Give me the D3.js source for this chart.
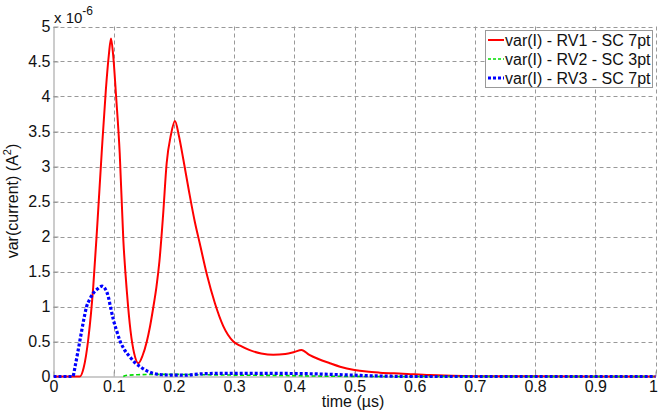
<!DOCTYPE html>
<html>
<head>
<meta charset="utf-8">
<script src="https://cdn.jsdelivr.net/npm/d3@7"></script>
<style>
  body { margin: 0; background: #fff; }
  svg { display: block; font-family: "Liberation Sans", Arial, sans-serif; }
</style>
</head>
<body>
<svg id="chart" width="658" height="413"></svg>
<script>
// ---- data (values in units of 1e-6 A^2, time in µs) ----
const seriesNames = ["var(I) - RV1 - SC 7pt", "var(I) - RV2 - SC 3pt", "var(I) - RV3 - SC 7pt"];

const rv1T = [0, 0.044, 0.05, 0.058, 0.066, 0.073, 0.080, 0.087, 0.092, 0.0955, 0.099, 0.104, 0.110, 0.116, 0.122, 0.128, 0.134, 0.141, 0.148, 0.155, 0.160, 0.166, 0.171, 0.176, 0.182, 0.188, 0.195, 0.2018, 0.208, 0.2157, 0.225, 0.235, 0.243, 0.255, 0.268, 0.282, 0.2987, 0.31, 0.325, 0.345, 0.365, 0.385, 0.40, 0.412, 0.425, 0.44, 0.459, 0.476, 0.50, 0.52, 0.542, 0.58, 0.625, 0.70, 0.80, 1.0];
const rv1V = [0, 0, 0.12, 0.55, 1.28, 2.2, 3.19, 4.1, 4.6, 4.83, 4.6, 4.0, 3.19, 1.95, 1.2, 0.65, 0.33, 0.19, 0.3, 0.5, 0.7, 1.0, 1.28, 1.65, 2.3, 3.05, 3.45, 3.65, 3.45, 3.1, 2.65, 2.2, 1.9, 1.45, 1.05, 0.72, 0.5, 0.44, 0.38, 0.33, 0.31, 0.32, 0.35, 0.38, 0.31, 0.25, 0.19, 0.14, 0.093, 0.07, 0.055, 0.04, 0.02, 0.005, 0.002, 0];

const rv2T = [0.116, 0.12, 0.14, 0.17, 0.20, 0.25, 0.30, 0.37, 0.45, 0.55, 0.70, 1.0];
const rv2V = [0.0, 0.015, 0.025, 0.03, 0.03, 0.025, 0.02, 0.015, 0.005, 0, 0, 0];

const rv3T = [0, 0.032, 0.036, 0.040, 0.044, 0.050, 0.055, 0.060, 0.066, 0.073, 0.081, 0.086, 0.091, 0.095, 0.0995, 0.105, 0.110, 0.118, 0.127, 0.135, 0.144, 0.155, 0.166, 0.18, 0.20, 0.22, 0.24, 0.28, 0.35, 0.42, 0.48, 0.52, 0.56, 0.60, 1.0];
const rv3V = [0, 0, 0.15, 0.33, 0.52, 0.8, 1.0, 1.1, 1.19, 1.25, 1.29, 1.25, 1.14, 0.98, 0.81, 0.65, 0.52, 0.38, 0.28, 0.2, 0.14, 0.08, 0.045, 0.025, 0.02, 0.02, 0.035, 0.045, 0.045, 0.04, 0.025, 0.012, 0.004, 0, 0];

const xTicks = [0, 0.1, 0.2, 0.3, 0.4, 0.5, 0.6, 0.7, 0.8, 0.9, 1];
const yTicks = [0, 0.5, 1, 1.5, 2, 2.5, 3, 3.5, 4, 4.5, 5];

// ---- layout ----
const svg = d3.select("#chart");
const L = 53.5, R = 655.5, T = 26.5, B = 376.5;
const FONT = "16px";
const x = d3.scaleLinear().domain([0, 1]).range([L, R]);
const y = d3.scaleLinear().domain([0, 5]).range([B, T]);

// grid
const grid = svg.append("g").attr("stroke", "#999").attr("stroke-width", 1).attr("stroke-dasharray", "4,3");
grid.selectAll(".gx").data(xTicks.slice(1)).join("line")
  .attr("x1", d => Math.round(x(d)) + 0.5).attr("x2", d => Math.round(x(d)) + 0.5)
  .attr("y1", T).attr("y2", B);
grid.selectAll(".gy").data(yTicks.slice(1)).join("line")
  .attr("y1", d => Math.round(y(d)) + 0.5).attr("y2", d => Math.round(y(d)) + 0.5)
  .attr("x1", L).attr("x2", R);

// axes
const xAxis = d3.axisBottom(x).tickValues(xTicks).tickFormat(d3.format("~g")).tickSizeInner(-5).tickSizeOuter(0);
const yAxis = d3.axisLeft(y).tickValues(yTicks).tickFormat(d3.format("~g")).tickSizeInner(-5).tickSizeOuter(0).tickPadding(3);
const gx = svg.append("g").attr("transform", `translate(0,${B})`).call(xAxis);
const gy = svg.append("g").attr("transform", `translate(${L},0)`).call(yAxis);
[gx, gy].forEach(g => {
  g.select(".domain").attr("stroke", "#999");
  g.selectAll(".tick line").attr("stroke", "#999");
  g.selectAll(".tick text").attr("fill", "#111").style("font-size", FONT).style("font-family", "'Liberation Sans', Arial, sans-serif");
});
gx.selectAll(".tick text").attr("y", 15).attr("dy", 0);
// keep the last label inside the frame
gx.selectAll(".tick text").filter(d => d === 1).attr("text-anchor", "end").attr("x", 2);

// lines
const mk = (ts, vs) => ts.map((t, i) => [t, vs[i]]);
const line = d3.line().x(d => x(d[0])).y(d => y(d[1])).curve(d3.curveMonotoneX);

const clip = svg.append("clipPath").attr("id", "clip").append("rect")
  .attr("x", L).attr("y", T - 2).attr("width", R - L + 2).attr("height", B - T + 4);
const plot = svg.append("g").attr("clip-path", "url(#clip)");

plot.append("path").datum(mk(rv1T, rv1V)).attr("d", line)
  .attr("fill", "none").attr("stroke", "#ff0000").attr("stroke-width", 2);
plot.append("path").datum(mk(rv2T, rv2V)).attr("d", line)
  .attr("fill", "none").attr("stroke", "#00dd00").attr("stroke-width", 1.6).attr("stroke-dasharray", "4,2.5");
plot.append("path").datum(mk(rv3T, rv3V)).attr("d", line)
  .attr("fill", "none").attr("stroke", "#0000ff").attr("stroke-width", 3.2).attr("stroke-dasharray", "3,2");

// exponent label
const ex = svg.append("text").attr("x", 54).attr("y", 23).attr("fill", "#111").style("font-size", "15px");
ex.append("tspan").text("x 10");
ex.append("tspan").attr("dy", -8).style("font-size", "12px").text("-6");

// axis labels
svg.append("text").attr("x", 353).attr("y", 407).attr("text-anchor", "middle")
  .attr("fill", "#111").style("font-size", FONT).text("time (\u00B5s)");
const yl = svg.append("text").attr("transform", "translate(18,201) rotate(-90)")
  .attr("text-anchor", "middle").attr("fill", "#111").style("font-size", FONT);
yl.append("tspan").text("var(current) (A");
yl.append("tspan").attr("dy", -7).style("font-size", "11px").text("2");
yl.append("tspan").attr("dy", 7).text(")");

// legend
const lg = svg.append("g");
lg.append("rect").attr("x", 485.5).attr("y", 30.5).attr("width", 167).attr("height", 57)
  .attr("fill", "#fff").attr("stroke", "#999");
const styles = [
  {c: "#ff0000", w: 2, da: null},
  {c: "#00dd00", w: 1.6, da: "3,2"},
  {c: "#0000ff", w: 3, da: "3,2"}
];
seriesNames.forEach((n, i) => {
  const yy = 40 + i * 19;
  lg.append("line").attr("x1", 488).attr("x2", 504).attr("y1", yy).attr("y2", yy)
    .attr("stroke", styles[i].c).attr("stroke-width", styles[i].w).attr("stroke-dasharray", styles[i].da);
  lg.append("text").attr("x", 505).attr("y", yy + 5.5).attr("fill", "#111").style("font-size", FONT).text(n);
});
</script>
</body>
</html>
